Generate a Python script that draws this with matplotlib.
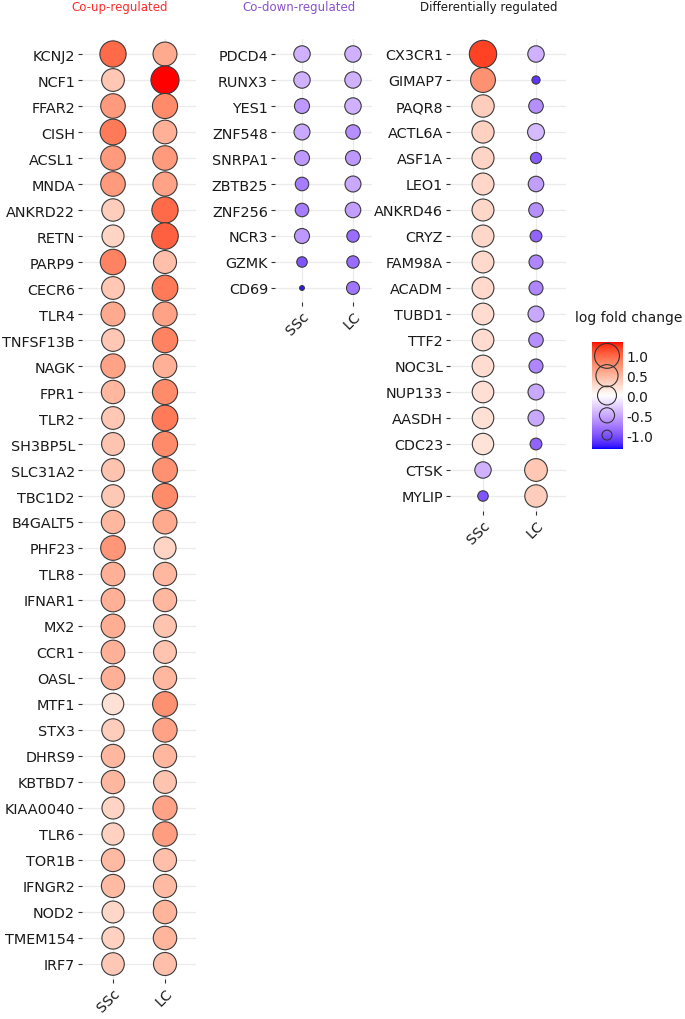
import matplotlib
matplotlib.use("Agg")
import matplotlib.pyplot as plt
from matplotlib.colors import ListedColormap
import numpy as np

# data: log fold change per gene (SSc, LC)
up_genes = ['KCNJ2', 'NCF1', 'FFAR2', 'CISH', 'ACSL1', 'MNDA', 'ANKRD22', 'RETN', 'PARP9',
            'CECR6', 'TLR4', 'TNFSF13B', 'NAGK', 'FPR1', 'TLR2', 'SH3BP5L', 'SLC31A2',
            'TBC1D2', 'B4GALT5', 'PHF23', 'TLR8', 'IFNAR1', 'MX2', 'CCR1', 'OASL', 'MTF1',
            'STX3', 'DHRS9', 'KBTBD7', 'KIAA0040', 'TLR6', 'TOR1B', 'IFNGR2', 'NOD2',
            'TMEM154', 'IRF7']
up_ssc = [1.0, 0.4, 0.7, 0.9, 0.7, 0.7, 0.35, 0.3, 0.85, 0.4, 0.6, 0.4, 0.65, 0.5, 0.4,
          0.42, 0.42, 0.38, 0.5, 0.72, 0.55, 0.55, 0.58, 0.55, 0.55, 0.22, 0.35, 0.5,
          0.5, 0.3, 0.32, 0.48, 0.48, 0.28, 0.32, 0.38]
up_lc = [0.6, 1.35, 0.8, 0.55, 0.7, 0.65, 1.0, 1.05, 0.45, 0.9, 0.65, 0.85, 0.55, 0.8,
         0.9, 0.8, 0.75, 0.8, 0.6, 0.3, 0.5, 0.5, 0.42, 0.42, 0.5, 0.75, 0.65, 0.5, 0.42,
         0.65, 0.68, 0.45, 0.48, 0.52, 0.52, 0.45]

down_genes = ['PDCD4', 'RUNX3', 'YES1', 'ZNF548', 'SNRPA1', 'ZBTB25', 'ZNF256', 'NCR3',
              'GZMK', 'CD69']
down_ssc = [-0.45, -0.45, -0.6, -0.5, -0.6, -0.75, -0.75, -0.6, -1.0, -1.3]
down_lc = [-0.45, -0.45, -0.45, -0.65, -0.6, -0.5, -0.55, -0.85, -0.85, -0.8]

diff_genes = ['CX3CR1', 'GIMAP7', 'PAQR8', 'ACTL6A', 'ASF1A', 'LEO1', 'ANKRD46', 'CRYZ',
              'FAM98A', 'ACADM', 'TUBD1', 'TTF2', 'NOC3L', 'NUP133', 'AASDH', 'CDC23',
              'CTSK', 'MYLIP']
diff_ssc = [1.2, 0.75, 0.35, 0.32, 0.3, 0.28, 0.28, 0.28, 0.27, 0.27, 0.25, 0.25, 0.25,
            0.23, 0.22, 0.2, -0.45, -1.0]
diff_lc = [-0.45, -1.15, -0.65, -0.4, -0.95, -0.55, -0.65, -0.9, -0.7, -0.7, -0.5, -0.65,
           -0.7, -0.5, -0.5, -0.9, 0.4, 0.35]

groups = ['SSc', 'LC']
legend_vals = [1.0, 0.5, 0.0, -0.5, -1.0]

W, H = 685, 1020
VMIN, VMAX = -1.35, 1.35


# blue - white - red gradient interpolated in Lab space (like ggplot's gradient2)
def rgb2lab(rgb):
    c = np.asarray(rgb, float)
    c = np.where(c > 0.04045, ((c + 0.055) / 1.055) ** 2.4, c / 12.92)
    M = np.array([[0.4124, 0.3576, 0.1805], [0.2126, 0.7152, 0.0722],
                  [0.0193, 0.1192, 0.9505]])
    xyz = M @ c / np.array([0.95047, 1.0, 1.08883])
    f = np.where(xyz > 0.008856, np.cbrt(xyz), 7.787 * xyz + 16 / 116)
    return np.array([116 * f[1] - 16, 500 * (f[0] - f[1]), 200 * (f[1] - f[2])])


def lab2rgb(lab):
    L, a, b = lab
    fy = (L + 16) / 116
    f = np.array([fy + a / 500, fy, fy - b / 200])
    xyz = np.where(f ** 3 > 0.008856, f ** 3, (f - 16 / 116) / 7.787)
    xyz = xyz * np.array([0.95047, 1.0, 1.08883])
    Minv = np.array([[3.2406, -1.5372, -0.4986], [-0.9689, 1.8758, 0.0415],
                     [0.0557, -0.2040, 1.0570]])
    c = Minv @ xyz
    c = np.where(c > 0.0031308, 1.055 * np.clip(c, 0, None) ** (1 / 2.4) - 0.055, 12.92 * c)
    return np.clip(c, 0, 1)


lab_blue, lab_white, lab_red = rgb2lab([0, 0, 1]), rgb2lab([1, 1, 1]), rgb2lab([1, 0, 0])
cols = []
for t in np.linspace(-1, 1, 256):
    if t < 0:
        lab = lab_white + (lab_blue - lab_white) * (-t)
    else:
        lab = lab_white + (lab_red - lab_white) * t
    cols.append(lab2rgb(lab))
cmap = ListedColormap(cols)


def size_of(v):
    return 150 * (np.asarray(v) + 1.38)


fig = plt.figure(figsize=(W / 100, H / 100), dpi=100)


def panel(x0, x1, xs, xl, bottom, genes, ssc, lc, title, tcolor, tx):
    top = 40
    ax = fig.add_axes([x0 / W, 1 - bottom / H, (x1 - x0) / W, (bottom - top) / H])
    # place SSc / LC columns at pixel xs / xl
    a = (xl - xs)
    ax.set_xlim((x0 - xs) / a, (x1 - xs) / a)
    ax.set_ylim((bottom - 55) / 26, (top - 55) / 26)
    n = len(genes)
    y = np.arange(n)
    for j, vals in enumerate([ssc, lc]):
        ax.scatter(np.full(n, j), y, s=size_of(vals), c=vals, cmap=cmap, vmin=VMIN,
                   vmax=VMAX, edgecolors='#3a3a3a', linewidths=0.8, zorder=3)
    ax.set_yticks(y)
    ax.set_yticklabels(genes, fontsize=10.4, color='#1a1a1a')
    ax.set_xticks([0, 1])
    ax.set_xticklabels(groups, fontsize=10.4, rotation=45, ha='right', va='top',
                       rotation_mode='anchor', color='#1a1a1a')
    ax.tick_params(length=3, width=0.8, color='#333333', pad=2)
    ax.grid(True, color='#ebebeb', linewidth=0.9, zorder=0)
    ax.set_axisbelow(True)
    for s in ax.spines.values():
        s.set_visible(False)
    fig.text(tx / W, 1 - 8 / H, title, color=tcolor, fontsize=8.5,
             ha='center', va='center')
    return ax


panel(82, 196, 113, 165, 980, up_genes, up_ssc, up_lc, 'Co-up-regulated', '#ff2a2a', 120)
panel(275, 372, 302, 353, 303, down_genes, down_ssc, down_lc, 'Co-down-regulated',
      '#8a52cc', 299)
panel(450, 566, 483, 536, 512, diff_genes, diff_ssc, diff_lc, 'Differentially regulated',
      '#1a1a1a', 489)

# legend: colorbar with size circles
fig.text(575 / W, 1 - 318 / H, 'log fold change', fontsize=10, ha='left', va='center',
         color='#1a1a1a')
cax = fig.add_axes([592 / W, 1 - 450 / H, 30 / W, 107 / H])
grad = np.linspace(VMAX, VMIN, 256).reshape(-1, 1)
cax.imshow(grad, aspect='auto', cmap=cmap, vmin=VMIN, vmax=VMAX,
           extent=[0, 1, VMIN, VMAX])
cax.scatter(np.full(len(legend_vals), 0.5), legend_vals, s=size_of(legend_vals) * 0.9,
            facecolors='none', edgecolors='#333333', linewidths=0.8)
cax.set_xlim(0, 1)
cax.set_ylim(VMIN, VMAX)
cax.set_xticks([])
cax.yaxis.tick_right()
cax.set_yticks(legend_vals)
cax.set_yticklabels(['%.1f' % v for v in legend_vals], fontsize=10, color='#1a1a1a')
cax.tick_params(length=0, pad=3)
for s in cax.spines.values():
    s.set_visible(False)

fig.savefig('out.png', dpi=100, facecolor='white')
